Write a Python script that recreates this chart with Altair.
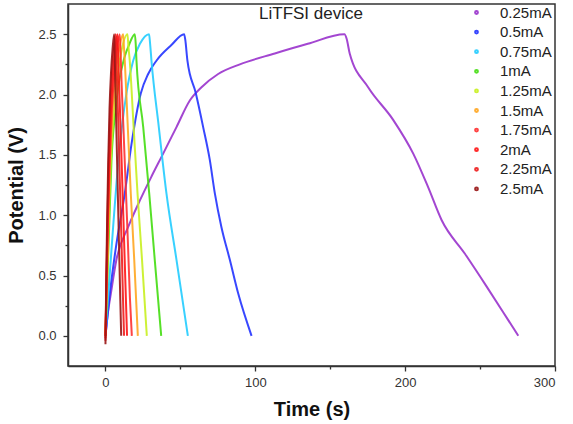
import altair as alt
import pandas as pd

currents = ["0.25mA", "0.5mA", "0.75mA", "1mA", "1.25mA", "1.5mA", "1.75mA", "2mA", "2.25mA", "2.5mA"]
colors = ["#9932CC", "#2233FF", "#22CCFF", "#44DD11", "#C8F020", "#FFA620", "#FF3030", "#FF1414", "#EE1C1C", "#991515"]

t_025 = [0, 1.5, 3.6, 7.3, 15.1, 22.9, 30.7, 38.5, 47.4, 56.3, 64.1, 75.2, 89.7, 113, 135, 159.5,
         161, 163, 175.3, 192, 205.4, 215.4, 224.3, 239.9, 254.3, 268.8, 275.5]
v_025 = [0.0, 0.18, 0.35, 0.63, 0.90, 1.12, 1.32, 1.51, 1.73, 1.95, 2.06, 2.17, 2.25, 2.34, 2.42, 2.50,
         2.46, 2.34, 2.06, 1.79, 1.51, 1.23, 0.96, 0.68, 0.41, 0.13, 0.0]

t_05 = [0, 2.9, 7.3, 12.9, 17.4, 23.6, 28.5, 34, 44, 52.5, 53.3, 54.7, 60.3, 65.2, 69.6, 73, 77.4, 83, 88.6, 97.5]
v_05 = [0.0, 0.35, 0.76, 1.18, 1.59, 2.01, 2.17, 2.28, 2.41, 2.50, 2.45, 2.28, 2.01, 1.73, 1.46, 1.18, 0.90, 0.63, 0.35, 0.0]

t_075 = [0, 2.5, 5.1, 9, 14, 18.5, 23, 29.1, 29.8, 30.7, 35.6, 40.7, 47.4, 55]
v_075 = [0.0, 0.45, 0.90, 1.50, 2.01, 2.28, 2.42, 2.50, 2.42, 2.28, 1.73, 1.18, 0.63, 0.0]

t_1 = [0, 1.2, 2.6, 4.0, 6.5, 9, 12.5, 16, 19.6, 20.2, 20.7, 25.2, 29.2, 32.9, 37.2]
v_1 = [0.0, 0.45, 0.95, 1.45, 1.85, 2.10, 2.30, 2.42, 2.50, 2.42, 2.28, 1.73, 1.18, 0.63, 0.0]

t_125 = [0, 1, 2.2, 3.4, 5.5, 8, 10.5, 14.7, 15.3, 16.2, 18.8, 21.4, 24.4, 27.6]
v_125 = [0.0, 0.45, 0.95, 1.40, 1.85, 2.15, 2.35, 2.50, 2.40, 2.28, 1.73, 1.18, 0.63, 0.0]

t_15 = [0, 0.9, 1.9, 3, 4.6, 6.5, 8.8, 11.8, 12.3, 12.9, 14.9, 16.9, 19.2, 21.6]
v_15 = [0.0, 0.45, 0.95, 1.40, 1.85, 2.15, 2.35, 2.50, 2.40, 2.28, 1.73, 1.18, 0.63, 0.0]

t_175 = [0, 0.8, 1.7, 2.8, 4.3, 6.0, 7.6, 9.5, 10.0, 10.8, 12.0, 13.4, 14.9, 16.3, 17.6]
v_175 = [0.0, 0.45, 0.95, 1.42, 1.88, 2.18, 2.37, 2.50, 2.38, 2.08, 1.72, 1.28, 0.80, 0.32, 0.0]

t_2 = [0, 0.7, 1.5, 2.4, 3.7, 5.1, 6.5, 8.0, 8.4, 9.1, 10.1, 11.2, 12.4, 13.6, 14.4]
v_2 = [-0.02, 0.45, 0.95, 1.42, 1.88, 2.18, 2.37, 2.50, 2.37, 2.08, 1.72, 1.28, 0.80, 0.32, 0.0]

t_225 = [0, 0.6, 1.3, 2.1, 3.2, 4.4, 5.6, 6.8, 7.2, 7.8, 8.7, 9.6, 10.7, 11.7, 12.4]
v_225 = [-0.04, 0.45, 0.95, 1.42, 1.88, 2.18, 2.37, 2.50, 2.37, 2.07, 1.71, 1.27, 0.79, 0.31, 0.0]

t_25 = [0, 0.5, 1.1, 1.8, 2.7, 3.7, 4.7, 5.8, 6.1, 6.6, 7.3, 8.1, 9.0, 9.9, 10.5]
v_25 = [-0.07, 0.45, 0.95, 1.42, 1.88, 2.18, 2.37, 2.50, 2.36, 2.06, 1.70, 1.26, 0.78, 0.30, 0.0]

series_t = [t_025, t_05, t_075, t_1, t_125, t_15, t_175, t_2, t_225, t_25]
series_v = [v_025, v_05, v_075, v_1, v_125, v_15, v_175, v_2, v_225, v_25]

x_major = [0, 100, 200, 300]
x_minor = [50, 150, 250]
y_major = [0.0, 0.5, 1.0, 1.5, 2.0, 2.5]
y_minor = [0.25, 0.75, 1.25, 1.75, 2.25]

rows = []
for k, (name, ts, vs) in enumerate(zip(currents, series_t, series_v)):
    for i, (t, v) in enumerate(zip(ts, vs)):
        rows.append({"t": t, "v": v, "current": name, "s": k, "i": i})
df = pd.DataFrame(rows)

FONT = "Liberation Sans"
xs = alt.Scale(domain=[-25, 300], nice=False, zero=False)
ys = alt.Scale(domain=[-0.25, 2.75], nice=False, zero=False)

base = alt.Chart(df)

lines = base.mark_line(strokeWidth=2, opacity=0.9, interpolate="monotone").encode(
    x=alt.X("t:Q", scale=xs, axis=alt.Axis(values=x_major, format="d", title="Time (s)", orient="bottom",
                                           tickSize=5, labelPadding=5, titlePadding=10, grid=False)),
    y=alt.Y("v:Q", scale=ys, axis=alt.Axis(values=y_major, format=".1f", title="Potential (V)", orient="left",
                                           tickSize=5, labelPadding=7, titlePadding=11, grid=False)),
    color=alt.Color("current:N", sort=currents,
                    scale=alt.Scale(domain=currents, range=colors),
                    legend=alt.Legend(title=None, orient="none", legendX=401, legendY=1,
                                      symbolType="circle", symbolSize=8, symbolStrokeWidth=2,
                                      labelFontSize=15, labelOffset=16, rowPadding=3.6, padding=0,
                                      labelColor="#222", labelFont=FONT)),
    detail="s:N",
    order="i:Q",
)

minor = base.mark_point(opacity=0).encode(
    x=alt.X("t:Q", scale=xs, axis=alt.Axis(values=x_minor, labels=False, tickSize=3, domain=False,
                                           title=None, orient="bottom", grid=False)),
    y=alt.Y("v:Q", scale=ys, axis=alt.Axis(values=y_minor, labels=False, tickSize=3, domain=False,
                                           title=None, orient="left", grid=False)),
)

title_df = pd.DataFrame({"label": ["LiTFSI device"]})
title = alt.Chart(title_df).mark_text(fontSize=17, font=FONT, color="#222", baseline="alphabetic", align="center").encode(
    x=alt.value(243), y=alt.value(15), text="label:N"
)

chart = alt.layer(lines, minor, title).resolve_axis(x="independent", y="independent").properties(
    width=487, height=362,
    padding={"left": 68, "top": 4, "right": 18, "bottom": 58},
    autosize=alt.AutoSizeParams(type="none"),
).configure_view(
    stroke="#333", strokeWidth=1.5
).configure_axis(
    domainColor="#333", domainWidth=1.5, tickColor="#333", tickWidth=1.3,
    labelFont=FONT, labelFontSize=13, labelColor="#333",
    titleFont=FONT, titleFontSize=20, titleFontWeight="bold", titleColor="#111",
)

chart.save("out.html", embed_options={"renderer": "svg", "actions": False})
